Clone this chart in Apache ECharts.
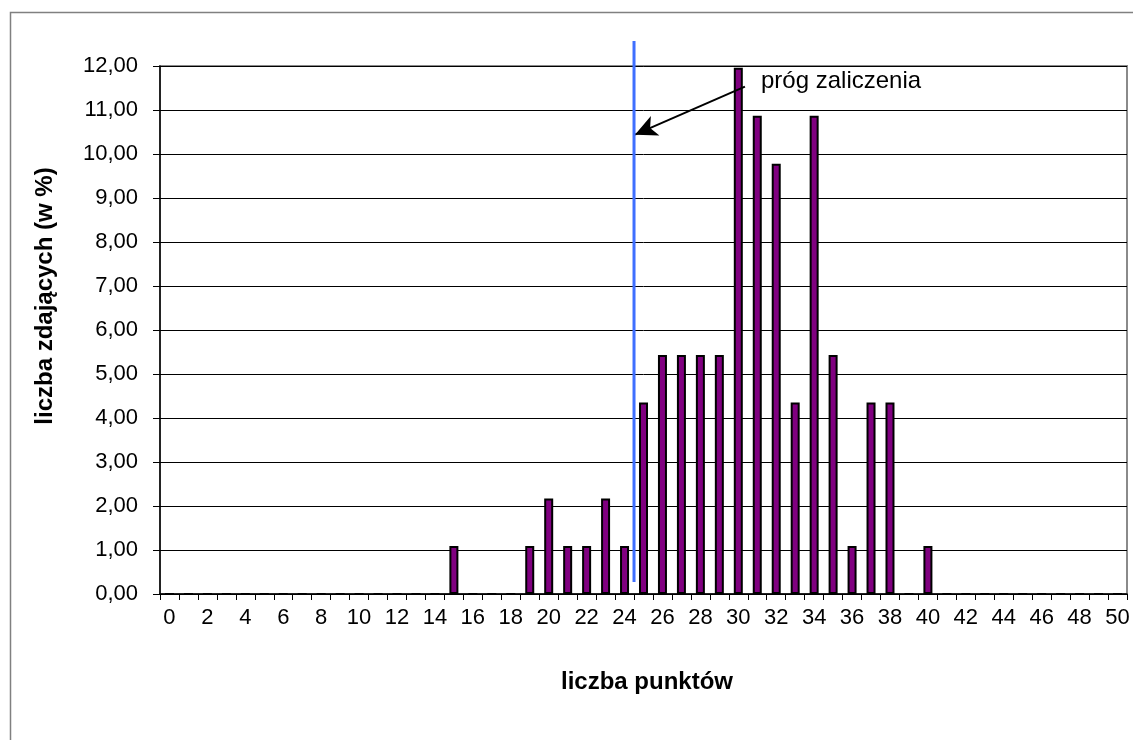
<!DOCTYPE html>
<html>
<head>
<meta charset="utf-8">
<script src="https://cdn.jsdelivr.net/npm/echarts@6/dist/echarts.min.js"></script>
<style>
html,body{margin:0;padding:0;background:#fff;}
#chart{width:1133px;height:740px;}
</style>
</head>
<body>
<div id="chart"></div>
<script>
// liczba punktów 0..50
var categories = [];
for (var i = 0; i <= 50; i++) categories.push(String(i));

// liczba zdających (w %) per points
var points = [15, 19, 20, 21, 22, 23, 24, 25, 26, 27, 28, 29, 30, 31, 32, 33, 34, 35, 36, 37, 38, 40];
var percents = [1.09, 1.09, 2.17, 1.09, 1.09, 2.17, 1.09, 4.35, 5.43, 5.43, 5.43, 5.43, 11.96, 10.87, 9.78, 4.35, 10.87, 5.43, 1.09, 4.35, 4.35, 1.09];

var yTicks = [0, 1, 2, 3, 4, 5, 6, 7, 8, 9, 10, 11, 12];

// threshold line (boundary between 24 and 25 points) and annotation arrow, in boundary units
var thresholdX = 25;
var thresholdLine = [[thresholdX, 12.57], [thresholdX, 0.27]];
var arrowFrom = [30.85, 11.53];
var arrowTo = [25.05, 10.44];
var annotationText = 'próg zaliczenia';
var xTitle = 'liczba punktów';
var yTitle = 'liczba zdających (w %)';

var values = categories.map(function (c) {
  var idx = points.indexOf(Number(c));
  return idx >= 0 ? percents[idx] : 0;
});

var FONT = '"Liberation Sans", Arial, sans-serif';
var chart = echarts.init(document.getElementById('chart'), null, {renderer: 'canvas'});
chart.setOption({
  animation: false,
  backgroundColor: '#fff',
  grid: {left: 160, right: 6, top: 66, bottom: 146, show: true, borderColor: '#8a8a8a', borderWidth: 2, backgroundColor: 'transparent'},
  xAxis: [{
    type: 'category',
    data: categories,
    boundaryGap: true,
    axisLine: {lineStyle: {color: '#000', width: 1.5}},
    axisTick: {show: true, interval: 0, length: 6, lineStyle: {color: '#000', width: 1}},
    axisLabel: {interval: 1, color: '#000', fontFamily: FONT, fontSize: 22, margin: 13},
    splitLine: {show: false}
  }, {
    type: 'value', min: 0, max: 51, show: false
  }],
  yAxis: {
    type: 'value',
    min: 0, max: 12, interval: 1,
    axisLine: {show: true, lineStyle: {color: '#000', width: 1.5}},
    axisTick: {show: true, length: 7, lineStyle: {color: '#000'}},
    axisLabel: {color: '#000', fontFamily: FONT, fontSize: 22, margin: 22,
      formatter: function (v) { return v.toFixed(2).replace('.', ','); }},
    splitLine: {show: true, lineStyle: {color: '#000', width: 1}}
  },
  series: [{
    type: 'bar',
    data: values,
    barWidth: 9,
    itemStyle: {color: '#800080', borderColor: '#000', borderWidth: 2}
  }, {
    type: 'line',
    xAxisIndex: 1,
    data: thresholdLine,
    clip: false,
    symbol: 'none',
    lineStyle: {color: '#3f6fff', width: 3},
    z: 5,
    markLine: {
      silent: true,
      symbol: ['none', 'arrow'],
      symbolSize: [16, 22],
      lineStyle: {color: '#000', width: 2, type: 'solid'},
      label: {show: false},
      data: [[{coord: arrowFrom}, {coord: arrowTo}]]
    }
  }],
  graphic: [
    {type: 'rect', left: 8, top: 10, z: -10, shape: {width: 1300, height: 900}, style: {fill: 'none', stroke: '#808080', lineWidth: 1.5}},
    {type: 'text', x: 761, y: 81, style: {text: annotationText, font: '24px ' + FONT, fill: '#000', verticalAlign: 'middle'}},
    {type: 'text', x: 647, y: 682, style: {text: xTitle, font: 'bold 24px ' + FONT, fill: '#000', align: 'center', verticalAlign: 'middle'}},
    {type: 'text', x: 45, y: 296, rotation: Math.PI / 2, style: {text: yTitle, font: 'bold 24px ' + FONT, fill: '#000', align: 'center', verticalAlign: 'middle'}}
  ]
});
</script>
</body>
</html>
